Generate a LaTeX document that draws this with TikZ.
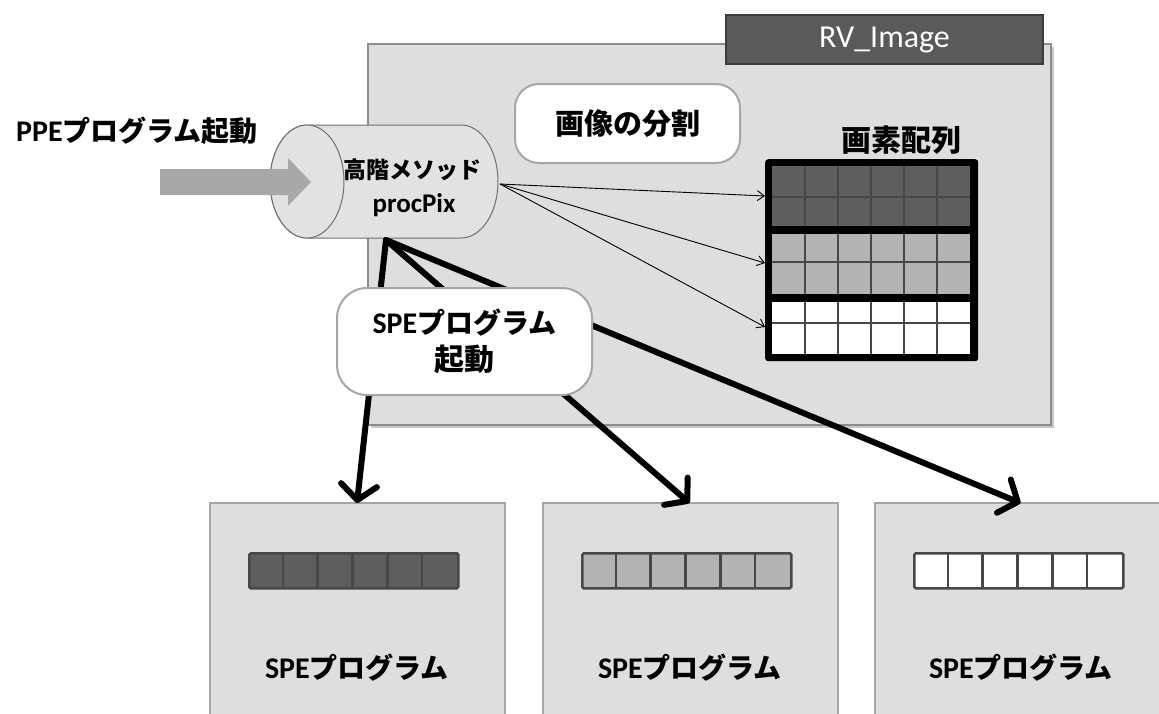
\documentclass[tikz,border=0pt]{standalone}
\usepackage{fontspec}
\setmainfont{Carlito}
\newfontfamily\jp{Noto Sans CJK JP}
\usetikzlibrary{arrows.meta}

\definecolor{panel}{HTML}{DEDEDE}
\definecolor{panelline}{HTML}{8C8C8C}
\definecolor{boxline}{HTML}{A6A6A6}
\definecolor{darkcell}{HTML}{5E5E5E}
\definecolor{midcell}{HTML}{B3B3B3}
\definecolor{cellline}{HTML}{474747}
\definecolor{tabfill}{HTML}{5A5A5A}
\definecolor{tabline}{HTML}{3C3C3C}
\definecolor{feedarrow}{HTML}{A8A8A8}
\definecolor{cylfill}{HTML}{E2E2E2}
\definecolor{cylline}{HTML}{6E6E6E}

% Japanese run inside a Latin label
\newcommand\Jtext[2][28]{{\fontsize{#1}{#1}\selectfont\jp #2}}

\begin{document}
\begin{tikzpicture}[x=1pt,y=-1pt,
  lab/.style={font=\bfseries\fontsize{30}{34}\selectfont, inner sep=0pt, align=center},
  container/.style={draw=panelline, line width=1.2pt, fill=panel, anchor=north west,
    inner sep=0pt, outer sep=0pt},
  spebox/.style={draw=boxline, line width=1.5pt, fill=panel, anchor=north west,
    minimum width=295pt, minimum height=240pt, inner sep=0pt, outer sep=0pt},
  bubble/.style={draw=boxline, line width=2pt, fill=white, anchor=north west,
    inner sep=0pt, outer sep=0pt},
  fan/.style={line width=0.9pt, -{Straight Barb[length=7pt,width=10pt]}},
  launch/.style={line width=6pt, line cap=round,
    -{Straight Barb[length=15pt,width=36pt,round]}},
]
\useasboundingbox[fill=white] (0,0) rectangle (1159,713);

% ---- RV_Image object ----
\fill[black!22] (371,47) rectangle (1054,428);
\node[container, minimum width=683pt, minimum height=381pt] (rv) at (368,44) {};
\node[draw=tabline, line width=2pt, fill=tabfill, anchor=north west,
      minimum width=317pt, minimum height=49pt, inner sep=0pt] (tab) at (725,14) {};
\node[text=white, font=\fontsize{32}{36}\selectfont, inner sep=0pt] (tabtext) at (tab.center) {RV\_Image};

% ---- bubble: image split ----
\node[bubble, rounded corners=24pt, minimum width=225pt, minimum height=79pt] (split) at (515,84) {};
\node[lab, font=\bfseries\fontsize{29}{32}\selectfont\jp] (splittext) at (split.center) {画像の分割};

% ---- pixel array ----
\node[lab, font=\bfseries\fontsize{30}{32}\selectfont\jp] (pixlabel) at (901,140) {画素配列};
\node[fill=black, rounded corners=3pt, anchor=north west, minimum width=213pt,
      minimum height=202pt, inner sep=0pt] (grid) at (765,159) {};
\foreach \t/\m/\b/\c in {166/197/226/darkcell, 234/262/294/midcell, 302/323/354/white} {
  \fill[\c] (772,\t) rectangle (970,\b);
  \foreach \x in {805,838,871,904,937}
    \draw[cellline, line width=2.6pt] (\x,\t) -- (\x,\b);
  \draw[cellline, line width=2.6pt] (772,\m) -- (970,\m);
}
\coordinate (row1) at (765,196);
\coordinate (row2) at (765,263);
\coordinate (row3) at (765,327);

% ---- higher-order method (cylinder); y axis points down, so angles run clockwise ----
\filldraw[fill=cylfill, draw=cylline, line width=1pt]
  (307,125) -- (461,125) arc[start angle=-90, end angle=90, x radius=37, y radius=56.5]
  -- (307,238) arc[start angle=90, end angle=270, x radius=37, y radius=56.5] -- cycle;
\filldraw[fill=cylfill, draw=cylline, line width=1pt] (307,181.5) ellipse[x radius=37, y radius=56.5];
\node[inner sep=0pt, font=\bfseries\fontsize{23}{26}\selectfont\jp] (method) at (412,170) {高階メソッド};
\node[inner sep=0pt, font=\bfseries\fontsize{27}{30}\selectfont] (procpix) at (414,205) {procPix};
\coordinate (cylR) at (500,184);
\coordinate (cylB) at (386,240);

% ---- PPE launch ----
\node[lab] (ppe) at (137,131) {PPE\Jtext{プログラム起動}};
\fill[feedarrow] (160,169) -- (288,169) -- (288,158) -- (311,182)
  -- (288,206) -- (288,195) -- (160,195) -- cycle;

% ---- fan-out to pixel rows ----
\draw[fan] (cylR) -- (row1);
\draw[fan] (cylR) -- (row2);
\draw[fan] (cylR) -- (row3);

% ---- SPE programs ----
\node[spebox] (spe1) at (210,503) {};
\node[spebox] (spe2) at (543,503) {};
\node[spebox] (spe3) at (875,503) {};

\foreach \bx/\c/\n in {248/darkcell/bar1, 581/midcell/bar2, 913/white/bar3} {
  \node[fill=\c, draw=cellline, line width=2.6pt, rounded corners=1.5pt, anchor=north west,
        minimum width=209pt, minimum height=35pt, inner sep=0pt] (\n) at (\bx,552) {};
  \foreach \k in {1,...,5}
    \draw[cellline, line width=2.6pt] (\bx+\k*34.83,552) -- (\bx+\k*34.83,587);
}

\node[lab] (spe1text) at (357,668) {SPE\Jtext{プログラム}};
\node[lab] (spe2text) at (690,668) {SPE\Jtext{プログラム}};
\node[lab] (spe3text) at (1021,668) {SPE\Jtext{プログラム}};

% ---- launch arrows ----
\draw[launch] (cylB) -- ([xshift=-0.5pt]spe1.north);
\draw[launch] (cylB) -- ([xshift=-1pt]spe2.north);
\draw[launch] (cylB) -- ([xshift=-2pt]spe3.north);

% ---- bubble: SPE launch ----
\node[bubble, rounded corners=30pt, minimum width=255pt, minimum height=107pt] (launchbox) at (337,288) {};
\node[lab] (launchtext) at (launchbox.center) {SPE\Jtext{プログラム}\\[3pt]\Jtext[30]{起動}};
\end{tikzpicture}
\end{document}
